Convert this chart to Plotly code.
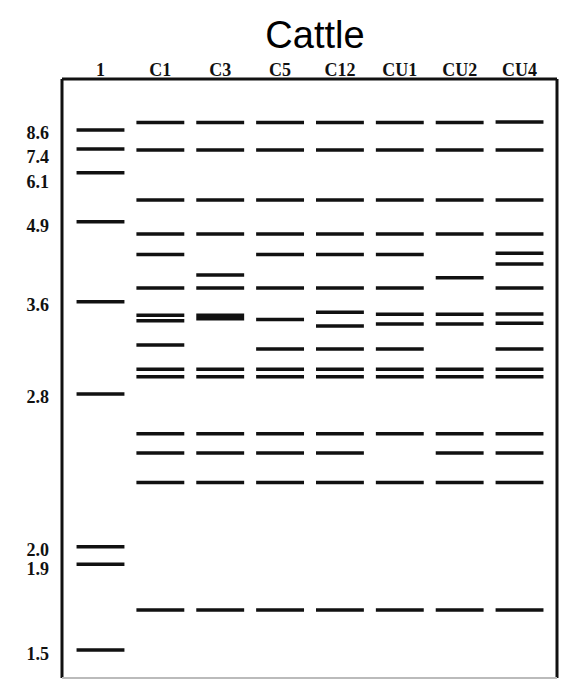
import plotly.graph_objects as go

# lanes across the gel
lanes = ["1", "C1", "C3", "C5", "C12", "CU1", "CU2", "CU4"]

# size marker (lane 1): fragment sizes and migration distance of each band
marker_sizes = ["8.6", "7.4", "6.1", "4.9", "3.6", "2.8", "2.0", "1.9", "1.5"]
marker_bands = [51, 70, 93.7, 142.7, 222.7, 315, 467.7, 485.3, 571]
marker_label_pos = [54, 78, 103, 147, 226, 318, 471, 490, 575]

# sample lanes: migration distance of each band
c1_bands = [43.5, 71, 121, 155, 175.5, 209, 236.3, 241.7, 266, 290.3, 297.7, 354.7, 374, 403.5, 531]
c3_bands = [43.5, 71, 121, 155, 196, 209, 290.3, 297.7, 354.7, 374, 403.5, 531]
c3_heavy = [238]
c5_bands = [43.5, 71, 121, 155, 175.5, 209, 240.5, 270, 290.3, 297.7, 354.7, 374, 403.5, 531]
c12_bands = [43.5, 71, 121, 155, 175.5, 209, 233.3, 247, 270, 290.3, 297.7, 354.7, 374, 403.5, 531]
cu1_bands = [43.5, 71, 121, 155, 175.5, 209, 235.3, 245, 270, 290.3, 297.7, 354.7, 403.5, 531]
cu2_bands = [43.5, 71, 121, 155, 198.7, 235.3, 245, 290.3, 297.7, 354.7, 374, 403.5, 531]
cu4_bands = [43, 71, 121, 155, 174.3, 185, 209, 235, 244.3, 270, 290.3, 297.7, 354.7, 374, 403.5, 531]

lane_bands = [marker_bands, c1_bands, c3_bands, c5_bands, c12_bands, cu1_bands, cu2_bands, cu4_bands]

HALF = 0.4


def band_xy(i, bands):
    xs, ys = [], []
    for b in bands:
        xs += [i - HALF, i + HALF, None]
        ys += [b, b, None]
    return xs, ys


fig = go.Figure()
for i, bands in enumerate(lane_bands):
    xs, ys = band_xy(i, bands)
    fig.add_trace(go.Scatter(x=xs, y=ys, mode="lines", line=dict(color="#111111", width=3.5),
                             hoverinfo="skip", showlegend=False))

xs, ys = band_xy(lanes.index("C3"), c3_heavy)
fig.add_trace(go.Scatter(x=xs, y=ys, mode="lines", line=dict(color="#111111", width=7),
                         hoverinfo="skip", showlegend=False))

# box around the gel: left, top, right dark, bottom faint
fig.add_shape(type="line", xref="paper", yref="paper", x0=0, x1=0, y0=0, y1=1, line=dict(color="#111", width=3))
fig.add_shape(type="line", xref="paper", yref="paper", x0=0, x1=1, y0=1, y1=1, line=dict(color="#111", width=3))
fig.add_shape(type="line", xref="paper", yref="paper", x0=1, x1=1, y0=0, y1=1, line=dict(color="#111", width=3))
fig.add_shape(type="line", xref="paper", yref="paper", x0=0, x1=1, y0=0, y1=0, line=dict(color="#bbbbbb", width=2))

# page body has an 8px margin on every side, so the figure is sized to fit inside it
W, H = 551, 672
fig.update_layout(
    width=W, height=H,
    margin=dict(l=54, r=2, t=71, b=2),
    plot_bgcolor="white", paper_bgcolor="white",
    title=dict(text="Cattle", x=307 / W, xanchor="center", y=1 - 27 / H, yanchor="middle",
               font=dict(family="Liberation Sans, Arial", size=38, color="black")),
    xaxis=dict(range=[-0.643, 7.626], side="top", tickmode="array",
               tickvals=list(range(len(lanes))), ticktext=[f"<b>{t}</b>" for t in lanes],
               showgrid=False, zeroline=False, showline=False, ticks="",
               tickfont=dict(family="Liberation Serif, Times New Roman", size=18, color="#111"),
               ticklabelstandoff=-2),
    yaxis=dict(range=[599, 0], tickmode="array", tickvals=marker_label_pos,
               ticktext=[f"<b>{t}</b>" for t in marker_sizes],
               showgrid=False, zeroline=False, showline=False, ticks="",
               tickfont=dict(family="Liberation Serif, Times New Roman", size=18, color="#111"),
               ticklabelstandoff=12),
)

fig.write_html("out.html")
